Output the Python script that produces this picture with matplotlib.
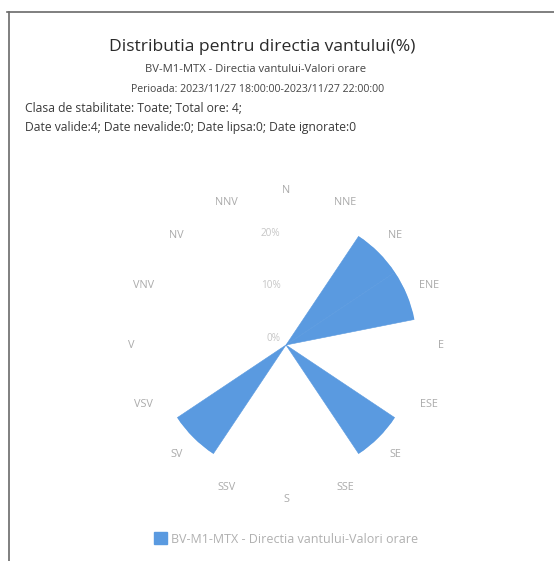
import numpy as np
import matplotlib
matplotlib.use("Agg")
import matplotlib.pyplot as plt
from matplotlib.lines import Line2D

plt.rcParams['font.family'] = ['Open Sans', 'DejaVu Sans']

directions = ["N", "NNE", "NE", "ENE", "E", "ESE", "SE", "SSE",
              "S", "SSV", "SV", "VSV", "V", "VNV", "NV", "NNV"]
frequency = [0, 0, 25, 25, 0, 0, 25, 0, 0, 0, 25, 0, 0, 0, 0, 0]
radial_ticks = [0, 10, 20]
radial_labels = ["0%", "10%", "20%"]
series_name = "BV-M1-MTX - Directia vantului-Valori orare"

title = "Distributia pentru directia vantului(%)"
subtitle1 = "BV-M1-MTX - Directia vantului-Valori orare"
subtitle2 = "Perioada: 2023/11/27 18:00:00-2023/11/27 22:00:00"
info1 = "Clasa de stabilitate: Toate; Total ore: 4;"
info2 = "Date valide:4; Date nevalide:0; Date lipsa:0; Date ignorate:0"

W, H = 554, 561
fig = plt.figure(figsize=(W / 100, H / 100), dpi=100)
fig.patch.set_facecolor('white')

# frame lines (top and left)
fig.add_artist(Line2D([7 / W, 1.0], [1 - 12 / H, 1 - 12 / H], color='#6a6a6a', lw=1.2))
fig.add_artist(Line2D([9 / W, 9 / W], [0.0, 1 - 12 / H], color='#6a6a6a', lw=1.2))

# texts
fig.text(262 / W, 1 - 47 / H, title, ha='center', va='center', fontsize=12.6, color='#2a2a2a')
fig.text(256 / W, 1 - 70 / H, subtitle1, ha='center', va='center', fontsize=8.1, color='#444444')
fig.text(258 / W, 1 - 89 / H, subtitle2, ha='center', va='center', fontsize=7.6, color='#444444')
fig.text(25 / W, 1 - 108 / H, info1, ha='left', va='center', fontsize=8.7, color='#3a3a3a')
fig.text(25 / W, 1 - 128 / H, info2, ha='left', va='center', fontsize=8.7, color='#3a3a3a')

# polar axes
cx, cy, R = 286, 345, 131
ax = fig.add_axes([(cx - R) / W, (H - cy - R) / H, 2 * R / W, 2 * R / H], projection='polar')
ax.set_theta_zero_location('N')
ax.set_theta_direction(-1)
n = len(directions)
theta = np.arange(n) * 2 * np.pi / n
ax.bar(theta, frequency, width=2 * np.pi / n, color='#5a9ae0', edgecolor='#5a9ae0',
       linewidth=0.4, align='center', label=series_name)
ax.set_ylim(0, 25)
ax.grid(False)
ax.spines['polar'].set_visible(False)
ax.set_facecolor('none')
ax.set_xticks(theta)
ax.set_xticklabels(directions, fontsize=7.8, color='#ababab')
ax.tick_params(axis='x', pad=10, length=0)
ax.set_yticks([])
for r, lab in zip(radial_ticks, radial_labels):
    ax.annotate(lab, xy=(0, r), xytext=(-4, 1), textcoords='offset points',
                ha='right', va='bottom', fontsize=7.2, color='#c6c6c6')

# legend
leg = fig.legend(handles=[plt.Rectangle((0, 0), 1, 1, color='#5a9ae0')], labels=[series_name],
                 loc='center', bbox_to_anchor=(286 / W, 1 - 539 / H), frameon=False,
                 fontsize=9, handlelength=1.1, handleheight=1.1, handletextpad=0.3)
for t in leg.get_texts():
    t.set_color('#b0b0b0')

fig.savefig('out.png', dpi=100, facecolor='white')
